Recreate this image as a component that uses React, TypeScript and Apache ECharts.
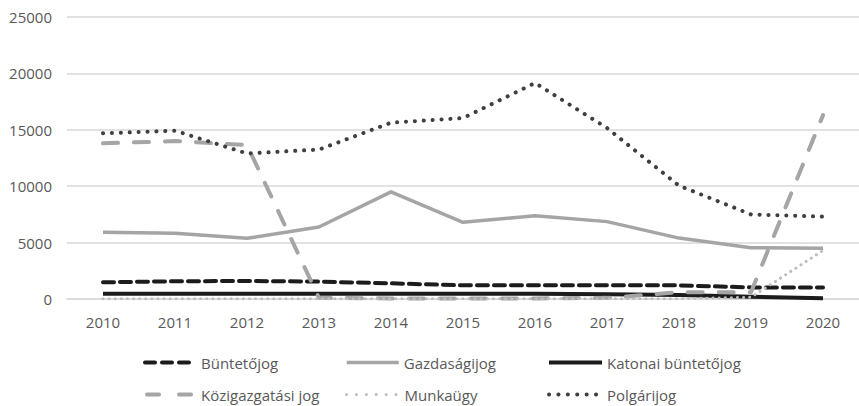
import React, { useEffect, useRef } from "react";
import * as echarts from "echarts";

const years = ["2010", "2011", "2012", "2013", "2014", "2015", "2016", "2017", "2018", "2019", "2020"];
const buntetojog = [1480, 1570, 1600, 1540, 1390, 1210, 1210, 1210, 1210, 1030, 1030];
const gazdasagijog = [5910, 5820, 5380, 6380, 9500, 6800, 7390, 6860, 5400, 4550, 4490];
const katonai = [470, 470, 470, 470, 470, 470, 470, 430, 350, 200, 60];
const kozigazgatasi = [13800, 14000, 13650, 100, 50, 50, 50, 100, 600, 600, 16300];
const munkaugy = [20, 20, 20, 20, 20, 20, 20, 20, 20, 150, 4300];
const polgarijog = [14690, 14920, 12900, 13250, 15630, 16040, 19150, 15160, 10050, 7500, 7300];
const yTicks = [0, 5000, 10000, 15000, 20000, 25000];

const FONT = "'Open Sans', sans-serif";
const TEXT = "#595959";

type Def = {
  name: string;
  data: number[];
  color: string;
  width: number;
  type: any;
  legendType: any;
  cap: "butt" | "round" | "square";
  lx: number;
  ly: number;
  lw: number;
};

const defs: Def[] = [
  { name: "Büntetőjog", data: buntetojog, color: "#1c1c1c", width: 4, type: [11, 6], legendType: [10, 7], cap: "round", lx: 143, ly: 355, lw: 51 },
  { name: "Gazdaságijog", data: gazdasagijog, color: "#a5a5a5", width: 3.5, type: "solid", legendType: "solid", cap: "butt", lx: 345, ly: 355, lw: 52 },
  { name: "Katonai büntetőjog", data: katonai, color: "#1c1c1c", width: 4, type: "solid", legendType: "solid", cap: "butt", lx: 547, ly: 355, lw: 53 },
  { name: "Közigazgatási jog", data: kozigazgatasi, color: "#a5a5a5", width: 4, type: [15, 16], legendType: [12, 20], cap: "round", lx: 145, ly: 387, lw: 49 },
  { name: "Munkaügy", data: munkaugy, color: "#bdbdbd", width: 3, type: [0.1, 6], legendType: [0.1, 9.8], cap: "round", lx: 345, ly: 387, lw: 53 },
  { name: "Polgárijog", data: polgarijog, color: "#3f3f3f", width: 4, type: [0.1, 8.8], legendType: [0.1, 9.3], cap: "round", lx: 547, ly: 387, lw: 53 },
];

export default function App() {
  const ref = useRef<HTMLDivElement>(null);
  useEffect(() => {
    if (!ref.current) return;
    const chart = echarts.init(ref.current, undefined, { renderer: "svg" });
    const option: any = {
      animation: false,
      backgroundColor: "#ffffff",
      textStyle: { fontFamily: FONT },
      grid: { left: 67, top: 17, width: 797, height: 282, containLabel: false },
      xAxis: {
        type: "category",
        data: years,
        boundaryGap: true,
        axisLine: { show: true, lineStyle: { color: "#d9d9d9", width: 1.5 } },
        axisTick: { show: false },
        axisLabel: { color: TEXT, fontSize: 15, fontFamily: FONT, margin: 15 },
      },
      yAxis: {
        type: "value",
        min: yTicks[0],
        max: yTicks[yTicks.length - 1],
        interval: yTicks[1] - yTicks[0],
        axisLine: { show: false },
        axisTick: { show: false },
        axisLabel: {
          color: TEXT,
          fontSize: 15,
          fontFamily: FONT,
          margin: 15,
          formatter: (v: number) => String(v),
        },
        splitLine: { show: true, lineStyle: { color: "#d9d9d9", width: 1.5 } },
      },
      legend: defs.map((d) => ({
        data: [d.name],
        left: d.lx,
        top: d.ly,
        padding: 0,
        itemWidth: d.lw,
        itemHeight: 14,
        itemGap: 8,
        textStyle: { color: TEXT, fontSize: 15, fontFamily: FONT },
        itemStyle: { opacity: 0, borderWidth: 0 },
        lineStyle: { color: d.color, width: d.width, type: d.legendType, cap: d.cap },
      })),
      series: defs.map((d) => ({
        name: d.name,
        type: "line",
        data: d.data,
        symbol: "none",
        showSymbol: false,
        smooth: false,
        color: d.color,
        itemStyle: { opacity: 0 },
        lineStyle: { color: d.color, width: d.width, type: d.type, cap: d.cap, join: "round" },
        z: 2,
      })),
    };
    chart.setOption(option);
    return () => chart.dispose();
  }, []);
  return (
    <div
      ref={ref}
      style={{ position: "absolute", left: 0, top: 0, width: 859, height: 406 }}
    />
  );
}
